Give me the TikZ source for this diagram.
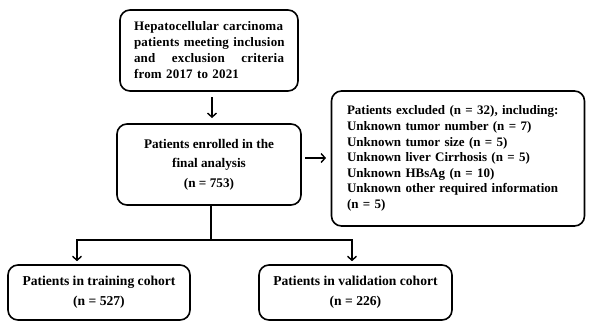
\documentclass[tikz,border=0pt]{standalone}
\usepackage{fontspec}
\setmainfont{Liberation Serif}
\usetikzlibrary{arrows.meta}
\begin{document}
\begin{tikzpicture}[x=1pt,y=-1pt,
  box/.style={draw,line width=1.6pt,rounded corners=10pt,inner sep=0pt,font=\bfseries\fontsize{13}{16}\selectfont},
  arr/.style={line width=1.4pt,-{Straight Barb[length=4pt,width=9pt,line width=1.4pt]}},
  ln/.style={line width=1.4pt}]
\fill[white] (0,0) rectangle (590,330);
\useasboundingbox (0,0) rectangle (590,330);
\node[box,minimum width=178pt,minimum height=81pt,text width=150pt,align=left,font=\bfseries\fontsize{13}{16}\selectfont\addfontfeature{LetterSpace=1.5}] (b1) at (209,50.5)
 {\mbox{Hepatocellular carcinoma}\\\mbox{patients meeting inclusion}\\\makebox[150pt][s]{and\hfil exclusion\hfil criteria}\\\mbox{from 2017 to 2021}};
\node[box,minimum width=184pt,minimum height=81pt,align=center,font=\bfseries\fontsize{13.2}{19.5}\selectfont] (b2) at (209,164.5)
 {Patients enrolled in the\\final analysis\\(n = 753)};
\node[box,minimum width=253pt,minimum height=135pt,text width=222pt,align=left,font=\bfseries\fontsize{13}{15.6}\selectfont] (b3) at (458,158.5)
 {Patients excluded (n = 32), including:\\Unknown tumor number (n = 7)\\Unknown tumor size (n = 5)\\Unknown liver Cirrhosis (n = 5)\\Unknown HBsAg (n = 10)\\Unknown other required information\\(n = 5)};
\node[box,minimum width=182pt,minimum height=55pt,align=center,font=\bfseries\fontsize{13.6}{20}\selectfont] (b4) at (99,292.5)
 {Patients in training cohort\\(n = 527)};
\node[box,minimum width=193pt,minimum height=55pt,align=center,font=\bfseries\fontsize{13.6}{20}\selectfont] (b5) at (355.5,292.5)
 {Patients in validation cohort\\(n = 226)};
\coordinate (a1s) at (212,97);
\coordinate (a1e) at (212,118);
\draw[arr] (a1s) -- (a1e);
\coordinate (a2s) at (305,158);
\coordinate (a2e) at (326,158);
\draw[arr] (a2s) -- (a2e);
\coordinate (j) at (211,240);
\coordinate (jl) at (77,240);
\coordinate (jr) at (352,240);
\draw[ln] (b2.south -| j) -- (j);
\draw[ln] (jl) -- (jr);
\draw[arr] ([yshift=0.7pt]jl) -- ([yshift=3pt]b4.north -| jl);
\draw[arr] ([yshift=0.7pt]jr) -- ([yshift=3pt]b5.north -| jr);
\end{tikzpicture}
\end{document}
